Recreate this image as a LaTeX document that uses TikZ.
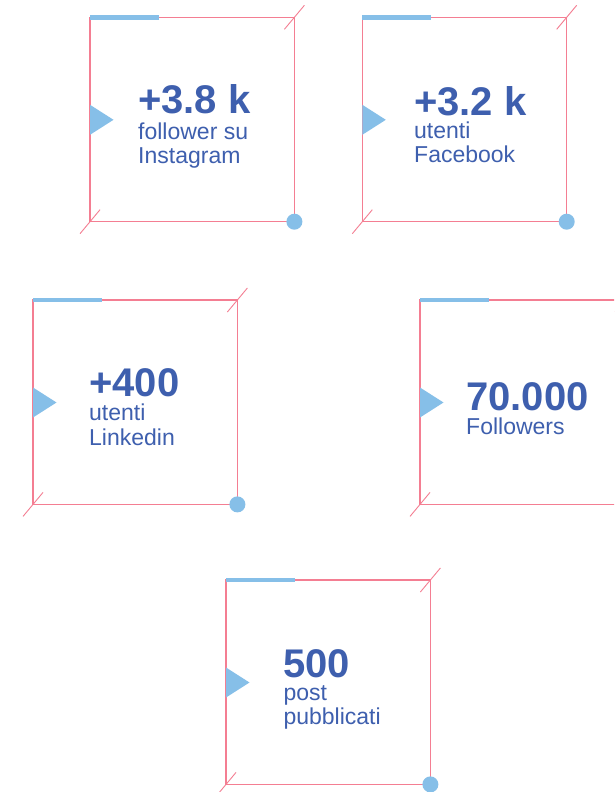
\documentclass[tikz,border=0pt]{standalone}
\usepackage{fontspec}
\setmainfont{Liberation Sans}
\definecolor{pinkline}{HTML}{F47E92}
\definecolor{lightblue}{HTML}{86BFE8}
\definecolor{textblue}{HTML}{3E5FAE}
\tikzset{
  edge/.style={draw=pinkline, line width=1.4pt},
  tick/.style={draw=pinkline, line width=0.9pt},
  topbar/.style={draw=lightblue, line width=4.6pt},
  marker/.style={fill=lightblue, draw=none},
  bigtxt/.style={anchor=base west, inner sep=0pt, text height=29pt, text depth=0pt, text=textblue, font=\fontsize{40}{48}\selectfont\bfseries},
  smalltxt/.style={anchor=base west, inner sep=0pt, text height=17pt, text depth=5pt, text=textblue, font=\fontsize{23}{27}\selectfont},
}
% #1 name, #2 left, #3 top, #4 draw dot (1/0)
\newcommand\statframe[4]{%
  \coordinate (#1tl) at (#2,#3);
  \coordinate (#1tr) at (#2+204.4,#3);
  \coordinate (#1bl) at (#2,#3+204.4);
  \coordinate (#1br) at (#2+204.4,#3+204.4);
  \draw[edge] (#1tl) rectangle (#1br);
  \draw[tick] ([shift={(-10,12)}]#1tr) -- ([shift={(10,-12)}]#1tr);
  \draw[tick] ([shift={(-10,12)}]#1bl) -- ([shift={(10,-12)}]#1bl);
  \draw[topbar] (#1tl) -- ([shift={(69,0)}]#1tl);
  \fill[marker] ([shift={(0,87.5)}]#1tl) -- ([shift={(23.5,102.5)}]#1tl) -- ([shift={(0,117.5)}]#1tl) -- cycle;
  \ifnum#4=1 \fill[marker] (#1br) circle (8);\fi
}
\begin{document}
\begin{tikzpicture}[x=1pt,y=-1pt]
\useasboundingbox (0,0) rectangle (614,792);
\clip (0,0) rectangle (614,792);
\fill[white] (0,0) rectangle (614,792);

\statframe{a}{90}{17.3}{1}
\node[bigtxt] (abig) at (138,113.3) {+3.8 k};
\node[smalltxt] (al1) at (138,139.3) {follower su};
\node[smalltxt] (al2) at (138,163.3) {Instagram};

\statframe{b}{362.3}{17.3}{1}
\node[bigtxt] (bbig) at (414,115) {+3.2 k};
\node[smalltxt] (bl1) at (414,138.3) {utenti};
\node[smalltxt] (bl2) at (414,162.3) {Facebook};

\statframe{c}{33}{300}{1}
\node[bigtxt] (cbig) at (89,396.7) {+400};
\node[smalltxt] (cl1) at (89,420) {utenti};
\node[smalltxt] (cl2) at (89,445.7) {Linkedin};

\statframe{d}{420}{300}{0}
\node[bigtxt] (dbig) at (466,410.7) {70.000};
\node[smalltxt] (dl1) at (466,434) {Followers};

\statframe{e}{226}{580}{1}
\node[bigtxt] (ebig) at (283.3,677.3) {500};
\node[smalltxt] (el1) at (283.3,700) {post};
\node[smalltxt] (el2) at (283.3,724.3) {pubblicati};
\end{tikzpicture}
\end{document}
